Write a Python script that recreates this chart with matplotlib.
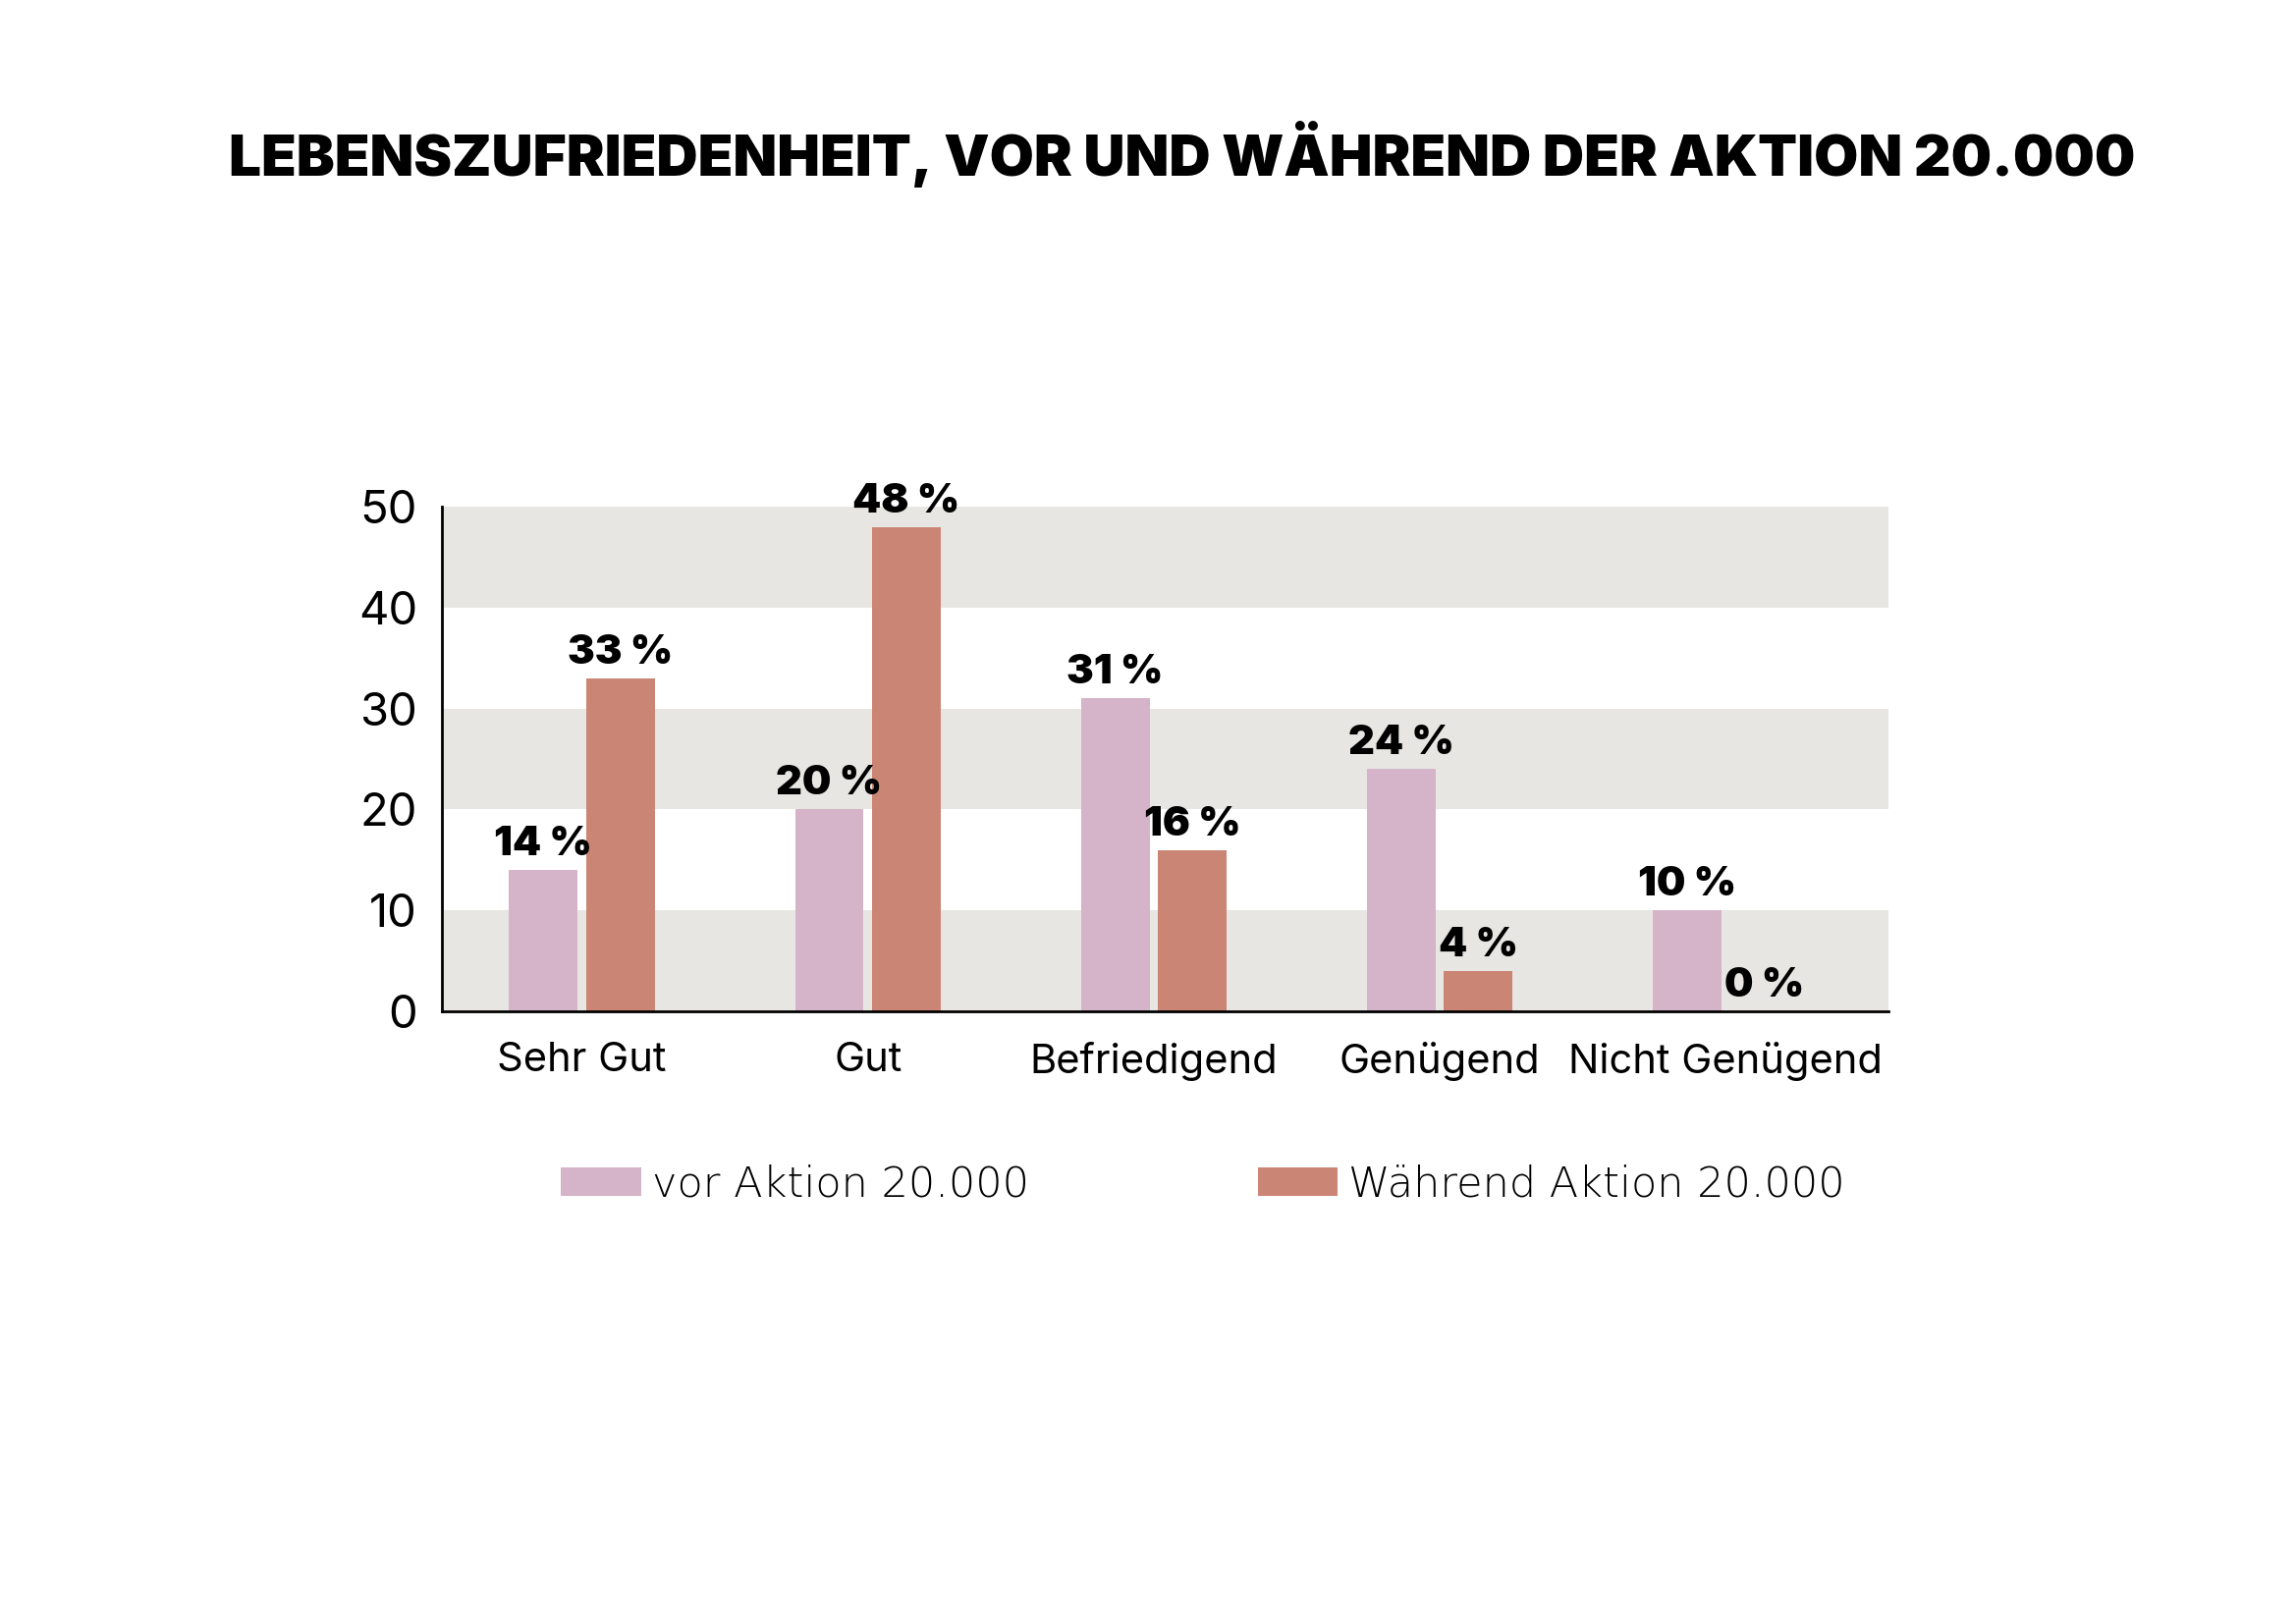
import matplotlib.pyplot as plt
import numpy as np

categories = ["Sehr Gut", "Gut", "Befriedigend", "Genügend", "Nicht Genügend"]
vor = [14, 20, 31, 24, 10]
waehrend = [33, 48, 16, 4, 0]
series_names = ["vor Aktion 20.000", "Während Aktion 20.000"]
yticks = [0, 10, 20, 30, 40, 50]
title = "LEBENSZUFRIEDENHEIT, VOR UND WÄHREND DER AKTION 20.000"

pink = "#d5b3c8"
salmon = "#cb8574"
band = "#e8e6e2"

fig = plt.figure(figsize=(23.38, 16.53), dpi=100)
ax = fig.add_axes([0.1925, 0.3769, 0.63, 0.3109])

# alternating grey bands
for lo in (0, 20, 40):
    ax.axhspan(lo, lo + 10, color=band, zorder=0, lw=0)

x = np.arange(len(categories))
w = 0.24
off = 0.135
b1 = ax.bar(x - off, vor, w, color=pink, label=series_names[0], zorder=2)
b2 = ax.bar(x + off, waehrend, w, color=salmon, label=series_names[1], zorder=2)

for bars, vals in ((b1, vor), (b2, waehrend)):
    for r, v in zip(bars, vals):
        ax.annotate(f"{v} %", (r.get_x() + r.get_width() / 2, v),
                    xytext=(0, 5), textcoords="offset points",
                    ha="center", va="bottom", fontsize=30,
                    fontweight="black", family="Inter", clip_on=False)

ax.set_xlim(-0.49, 4.57)
ax.set_ylim(0, 50)
ax.set_yticks(yticks)
ax.set_yticklabels([str(t) for t in yticks], fontsize=34, family="Inter")
ax.set_xticks(x)
ax.set_xticklabels(categories, fontsize=30, family="Inter")
ax.tick_params(axis="both", length=0)
ax.tick_params(axis="y", pad=18)
ax.tick_params(axis="x", pad=22)

for s in ("top", "right"):
    ax.spines[s].set_visible(False)
ax.spines["left"].set_linewidth(2)
ax.spines["bottom"].set_linewidth(2)

fig.text(0.515, 0.905, title, ha="center", va="center", fontsize=42,
         fontweight="black", family="Inter")

fig.legend(handles=[b1, b2], loc="center", bbox_to_anchor=(0.524, 0.2704),
           ncol=2, frameon=False, handlelength=1.9,
           handleheight=0.65, handletextpad=0.25, columnspacing=5.4,
           prop={"family": "DejaVu Sans", "size": 31, "weight": "light"})

fig.savefig("out.png", dpi=100, facecolor="white")
